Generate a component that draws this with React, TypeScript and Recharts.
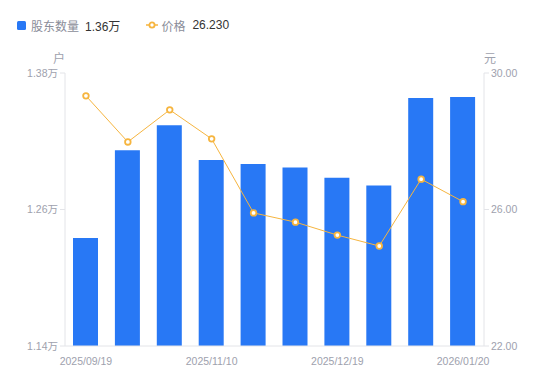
import React from 'react';
import { ComposedChart, Bar, Line, XAxis, YAxis } from 'recharts';

const dates = ['2025/09/19', '2025/09/30', '2025/10/20', '2025/11/10', '2025/11/20', '2025/11/28', '2025/12/19', '2025/12/31', '2026/01/09', '2026/01/20'];
const holders = [12350, 13120, 13340, 13035, 13000, 12970, 12880, 12810, 13580, 13590];
const prices = [29.33, 27.98, 28.92, 28.07, 25.9, 25.63, 25.25, 24.93, 26.89, 26.23];
const leftTicks = [11400, 12600, 13800];
const rightTicks = [22, 26, 30];

const data = dates.map((d, i) => ({ date: d, holders: holders[i], price: prices[i] }));

const FONT = 'Arial, "Liberation Sans", "Noto Sans CJK SC", sans-serif';
const TICK = '#9ea1ad';
const AXIS = '#e3e4e8';
const BLUE = '#2878f5';
const ORANGE = '#f6b53f';

const Dot = (props: any) => {
  const { cx, cy } = props;
  return <circle cx={cx} cy={cy} r={2.8} fill="#fff" stroke={ORANGE} strokeWidth={1.8} />;
};

export default function App() {
  return (
    <div style={{ position: 'absolute', left: 0, top: 0, width: 550, height: 381, fontFamily: FONT, background: '#fff' }}>
      <div style={{ position: 'absolute', left: 17, top: 17, height: 16, display: 'flex', alignItems: 'center', fontSize: 12, whiteSpace: 'nowrap' }}>
        <span style={{ display: 'inline-block', width: 9, height: 9, background: BLUE, borderRadius: 1.5, marginRight: 5 }} />
        <span style={{ color: '#8a8d99' }}>股东数量</span>
        <span style={{ color: '#333', marginLeft: 6 }}>1.36万</span>
        <svg width={12} height={10} style={{ marginLeft: 26, marginRight: 3 }}>
          <line x1={0} y1={5} x2={12} y2={5} stroke={ORANGE} strokeWidth={1.5} />
          <circle cx={6} cy={5} r={2.6} fill="#fff" stroke={ORANGE} strokeWidth={1.8} />
        </svg>
        <span style={{ color: '#8a8d99' }}>价格</span>
        <span style={{ color: '#333', marginLeft: 7 }}>26.230</span>
      </div>
      <div style={{ position: 'absolute', left: 53, top: 49, fontSize: 12, color: TICK }}>户</div>
      <div style={{ position: 'absolute', left: 484, top: 49, fontSize: 12, color: TICK }}>元</div>
      <ComposedChart width={550} height={381} data={data} margin={{ top: 73, right: 0, bottom: 0, left: 0 }}>
        <XAxis
          dataKey="date"
          interval={2}
          tickLine={false}
          axisLine={{ stroke: AXIS }}
          tick={{ fill: TICK, fontSize: 10.5, fontFamily: FONT }}
          tickMargin={6}
          height={35}
        />
        <YAxis
          yAxisId="l"
          orientation="left"
          width={65}
          domain={[11400, 13800]}
          ticks={leftTicks}
          allowDataOverflow
          axisLine={{ stroke: AXIS }}
          tickLine={{ stroke: AXIS }}
          tickSize={5}
          tickMargin={2}
          tick={{ fill: TICK, fontSize: 10.5, fontFamily: FONT }}
          tickFormatter={(v: number) => (v / 10000).toFixed(2) + '万'}
        />
        <YAxis
          yAxisId="r"
          orientation="right"
          width={66}
          domain={[22, 30]}
          ticks={rightTicks}
          allowDataOverflow
          axisLine={{ stroke: AXIS }}
          tickLine={{ stroke: AXIS }}
          tickSize={5}
          tickMargin={2}
          tick={{ fill: TICK, fontSize: 10.5, fontFamily: FONT }}
          tickFormatter={(v: number) => v.toFixed(2)}
        />
        <Bar yAxisId="l" dataKey="holders" fill={BLUE} barSize={25} isAnimationActive={false} />
        <Line
          yAxisId="r"
          dataKey="price"
          type="linear"
          stroke={ORANGE}
          strokeWidth={1}
          dot={<Dot />}
          activeDot={false}
          isAnimationActive={false}
        />
      </ComposedChart>
    </div>
  );
}
